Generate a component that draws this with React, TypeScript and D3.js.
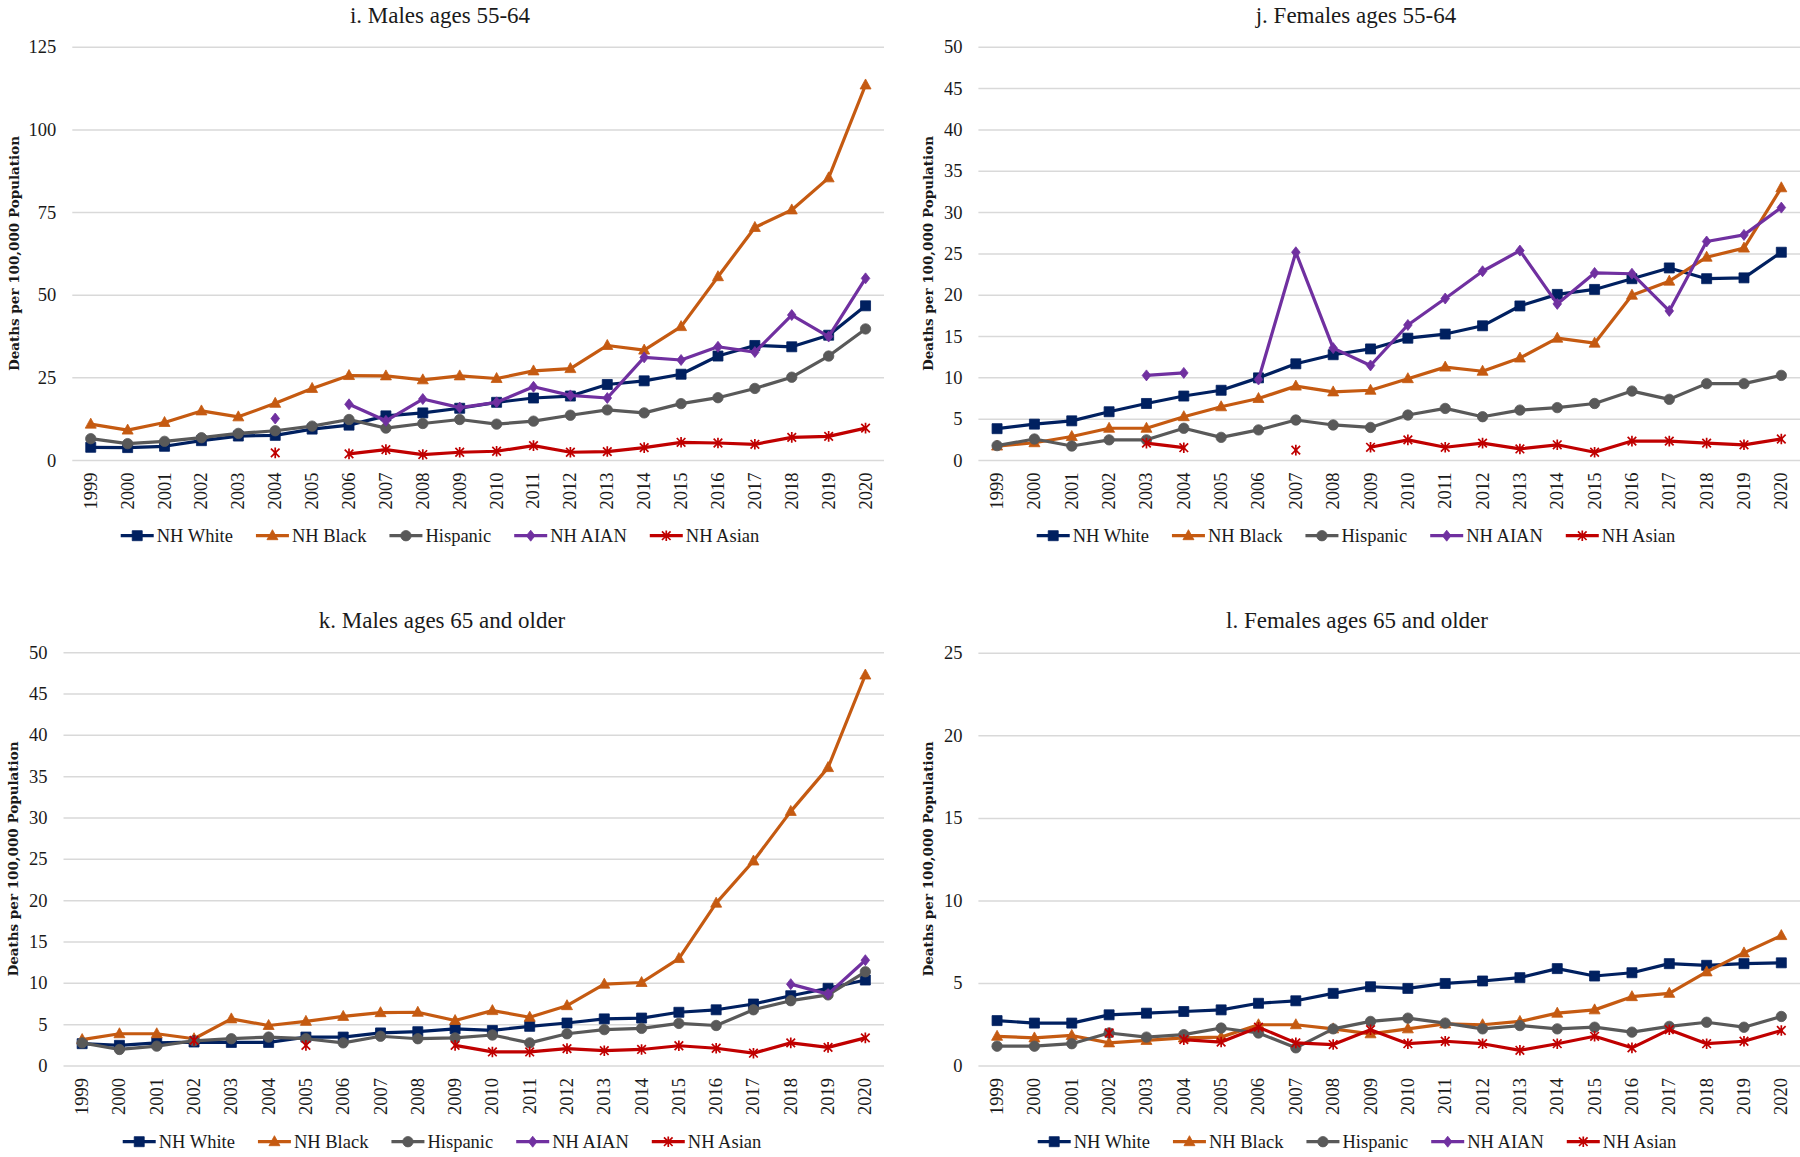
import React, { useEffect, useRef } from 'react';
import * as d3 from 'd3';

const years = ['1999','2000','2001','2002','2003','2004','2005','2006','2007','2008','2009','2010','2011','2012','2013','2014','2015','2016','2017','2018','2019','2020'];
const seriesNames = ['NH White', 'NH Black', 'Hispanic', 'NH AIAN', 'NH Asian'];
const seriesColors = ['#002060', '#c55a11', '#595959', '#7030a0', '#c00000'];
const seriesMarkers = ['square', 'triangle', 'circle', 'diamond', 'asterisk'];

const N = null;

// i. Males ages 55-64
const iWhite = [4.0,3.9,4.3,6.0,7.4,7.6,9.5,10.7,13.5,14.4,15.8,17.6,18.9,19.5,23.0,24.1,26.1,31.6,34.8,34.4,37.9,46.8];
const iBlack = [11.0,9.2,11.5,15.0,13.2,17.3,21.8,25.7,25.6,24.4,25.6,24.8,27.1,27.8,34.8,33.4,40.5,55.6,70.5,75.8,85.5,113.6];
const iHisp = [6.6,5.1,5.8,6.9,8.2,9.0,10.4,12.4,9.8,11.2,12.4,11.0,11.9,13.7,15.3,14.4,17.2,19.0,21.8,25.2,31.6,39.8];
const iAian = [N,N,N,N,N,12.7,N,17.0,12.0,18.6,16.0,17.6,22.3,19.7,18.9,31.2,30.4,34.4,32.8,44.0,37.5,55.1];
const iAsian = [N,N,N,N,N,2.3,N,2.0,3.3,1.8,2.5,2.8,4.5,2.5,2.7,3.9,5.5,5.3,4.9,7.0,7.3,9.8];

// j. Females ages 55-64
const jWhite = [3.85,4.4,4.8,5.9,6.9,7.8,8.5,10.0,11.7,12.8,13.5,14.8,15.3,16.3,18.7,20.1,20.7,22.0,23.3,22.0,22.1,25.2];
const jBlack = [1.75,2.15,2.9,3.9,3.9,5.3,6.5,7.5,9.0,8.3,8.5,9.9,11.3,10.8,12.4,14.8,14.2,20.0,21.7,24.6,25.7,33.0];
const jHisp = [1.8,2.6,1.75,2.5,2.5,3.9,2.8,3.7,4.9,4.3,4.0,5.5,6.3,5.3,6.1,6.4,6.9,8.4,7.4,9.3,9.3,10.3];
const jAian = [N,N,N,N,10.3,10.6,N,9.8,25.2,13.6,11.5,16.4,19.6,22.9,25.4,18.95,22.7,22.6,18.1,26.5,27.3,30.6];
const jAsian = [N,N,N,N,2.1,1.55,N,N,1.25,N,1.6,2.5,1.6,2.1,1.4,1.9,1.0,2.35,2.35,2.1,1.9,2.6];

// k. Males ages 65 and older
const kWhite = [2.7,2.5,2.8,2.9,2.85,2.85,3.5,3.5,4.0,4.15,4.5,4.3,4.8,5.2,5.7,5.8,6.5,6.8,7.5,8.5,9.4,10.4];
const kBlack = [3.2,3.9,3.9,3.3,5.7,4.9,5.4,6.0,6.45,6.5,5.5,6.7,5.9,7.3,9.9,10.1,13.0,19.7,24.8,30.8,36.1,47.3];
const kHisp = [2.8,2.0,2.4,3.05,3.3,3.5,3.3,2.8,3.6,3.3,3.4,3.75,2.8,3.9,4.4,4.55,5.15,4.9,6.8,7.9,8.6,11.4];
const kAian = [N,N,N,N,N,N,N,N,N,N,N,N,N,N,N,N,N,N,N,9.9,8.7,12.8];
const kAsian = [N,N,N,3.1,N,N,2.5,N,N,N,2.5,1.7,1.7,2.1,1.85,2.0,2.45,2.15,1.55,2.8,2.25,3.4];

// l. Females ages 65 and older
const lWhite = [2.75,2.6,2.6,3.1,3.2,3.3,3.4,3.8,3.95,4.4,4.8,4.7,5.0,5.15,5.35,5.9,5.45,5.65,6.2,6.1,6.2,6.25];
const lBlack = [1.8,1.7,1.85,1.4,1.55,1.7,1.75,2.5,2.5,2.25,1.95,2.25,2.55,2.5,2.7,3.2,3.4,4.2,4.4,5.7,6.85,7.9];
const lHisp = [1.2,1.2,1.35,2.0,1.75,1.9,2.3,2.0,1.1,2.25,2.7,2.9,2.6,2.25,2.45,2.25,2.35,2.05,2.4,2.65,2.35,3.0];
const lAian = [N,N,N,N,N,N,N,N,N,N,N,N,N,N,N,N,N,N,N,N,N,N];
const lAsian = [N,N,N,2.0,N,1.6,1.45,2.35,1.4,1.3,2.2,1.35,1.5,1.35,0.95,1.35,1.8,1.1,2.2,1.35,1.5,2.15];

const panelTitles = ['i. Males ages 55-64', 'j. Females ages 55-64', 'k. Males ages 65 and older', 'l. Females ages 65 and older'];
const panelMax = [125, 50, 50, 25];
const panelStep = [25, 5, 5, 5];
const panelSeries = [
  [iWhite, iBlack, iHisp, iAian, iAsian],
  [jWhite, jBlack, jHisp, jAian, jAsian],
  [kWhite, kBlack, kHisp, kAian, kAsian],
  [lWhite, lBlack, lHisp, lAian, lAsian],
];
const yAxisTitle = 'Deaths per 100,000 Population';

// layout (pixels)
const layout = [
  { x0: 72.3, x1: 884, yTop: 47.3, yBot: 460.5, center: 440, titleBase: 23, legendY: 535.7, yTitleX: 14, yTitleY: 253.5 },
  { x0: 978.4, x1: 1800, yTop: 47.3, yBot: 460.5, center: 1356, titleBase: 23, legendY: 535.7, yTitleX: 928, yTitleY: 253.5 },
  { x0: 63.5, x1: 884, yTop: 652.7, yBot: 1066, center: 442, titleBase: 627.5, legendY: 1141.7, yTitleX: 13, yTitleY: 859 },
  { x0: 978.4, x1: 1800, yTop: 653.3, yBot: 1066, center: 1357, titleBase: 627.5, legendY: 1141.7, yTitleX: 928, yTitleY: 859 },
];

const SERIF = "'Liberation Serif', 'Times New Roman', serif";

function markerPath(kind: string): string {
  switch (kind) {
    case 'square': return 'M-5,-5h10v10h-10Z';
    case 'triangle': return 'M0,-6L5.5,4L-5.5,4Z';
    case 'circle': return 'M-5.2,0a5.2,5.2 0 1,0 10.4,0a5.2,5.2 0 1,0 -10.4,0Z';
    case 'diamond': return 'M0,-5.5L4.3,0L0,5.5L-4.3,0Z';
    default: return 'M-4.3,-4.3L4.3,4.3M-4.3,4.3L4.3,-4.3M0,-5.3L0,5.3';
  }
}

function drawMarker(g: any, kind: string, color: string, x: number, y: number) {
  const p = g.append('path').attr('d', markerPath(kind)).attr('transform', `translate(${x},${y})`);
  if (kind === 'asterisk') {
    p.attr('fill', 'none').attr('stroke', color).attr('stroke-width', 1.7);
  } else {
    p.attr('fill', color).attr('stroke', color).attr('stroke-width', 0.8);
  }
}

export default function App() {
  const ref = useRef<SVGSVGElement>(null);
  useEffect(() => {
    const svg = d3.select(ref.current);
    svg.selectAll('*').remove();
    svg.append('rect').attr('width', 1800).attr('height', 1157).attr('fill', '#fff');

    layout.forEach((L, pi) => {
      const g = svg.append('g');
      const x = d3.scaleBand<string>().domain(years).range([L.x0, L.x1]);
      const cx = (yr: string) => (x(yr) as number) + x.bandwidth() / 2;
      const y = d3.scaleLinear().domain([0, panelMax[pi]]).range([L.yBot, L.yTop]);
      const ticks = d3.range(0, panelMax[pi] + panelStep[pi] / 2, panelStep[pi]);

      // gridlines
      const grid = g.append('g');
      grid.selectAll('line').data(ticks).join('line')
        .attr('x1', L.x0).attr('x2', L.x1)
        .attr('y1', (d: number) => y(d)).attr('y2', (d: number) => y(d))
        .attr('stroke', '#d9d9d9').attr('stroke-width', 1.5);

      // y tick labels
      const yl = g.append('g');
      yl.selectAll('text').data(ticks).join('text')
        .attr('x', L.x0 - 16).attr('y', (d: number) => y(d))
        .attr('text-anchor', 'end').attr('dominant-baseline', 'central')
        .attr('font-family', SERIF).attr('font-size', 18.5).attr('fill', '#1a1a1a')
        .text((d: number) => String(d));

      // x labels
      const xl = g.append('g');
      xl.selectAll('text').data(years).join('text')
        .attr('transform', (d: string) => `translate(${cx(d)},${L.yBot + 12}) rotate(-90)`)
        .attr('text-anchor', 'end').attr('dominant-baseline', 'central')
        .attr('font-family', SERIF).attr('font-size', 18.5).attr('fill', '#1a1a1a')
        .text((d: string) => d);

      // title
      g.append('text').attr('x', L.center).attr('y', L.titleBase)
        .attr('text-anchor', 'middle').attr('font-family', SERIF).attr('font-size', 23).attr('fill', '#1a1a1a')
        .text(panelTitles[pi]);

      // y axis title
      g.append('text')
        .attr('transform', `translate(${L.yTitleX},${L.yTitleY}) rotate(-90)`)
        .attr('text-anchor', 'middle').attr('dominant-baseline', 'central')
        .attr('font-family', "'DejaVu Serif', serif").attr('font-weight', 'bold').attr('font-size', 13.5).attr('fill', '#1a1a1a')
        .text(yAxisTitle);

      // series
      const sg = g.append('g');
      panelSeries[pi].forEach((vals, si) => {
        const line = d3.line<number | null>()
          .defined((d) => d != null)
          .x((_d, i) => cx(years[i]))
          .y((d) => y(d as number));
        sg.append('path').attr('d', line(vals) || '')
          .attr('fill', 'none').attr('stroke', seriesColors[si]).attr('stroke-width', 3.2)
          .attr('stroke-linejoin', 'round').attr('stroke-linecap', 'round');
        vals.forEach((v, i) => {
          if (v != null) drawMarker(sg, seriesMarkers[si], seriesColors[si], cx(years[i]), y(v));
        });
      });

      // legend
      const lg = g.append('g');
      let cur = 0;
      seriesNames.forEach((name, si) => {
        const it = lg.append('g').attr('transform', `translate(${cur},0)`);
        it.append('line').attr('x1', 0).attr('x2', 33).attr('y1', 0).attr('y2', 0)
          .attr('stroke', seriesColors[si]).attr('stroke-width', 3.2);
        drawMarker(it, seriesMarkers[si], seriesColors[si], 16.5, 0);
        const t = it.append('text').attr('x', 36).attr('y', 6)
          .attr('font-family', SERIF).attr('font-size', 18.5).attr('fill', '#1a1a1a').text(name);
        const w = (t.node() as SVGTextElement).getComputedTextLength();
        cur += 36 + w + (si < seriesNames.length - 1 ? 23 : 0);
      });
      lg.attr('transform', `translate(${L.center - cur / 2},${L.legendY})`);
    });
  }, []);
  return <svg ref={ref} width={1800} height={1157} style={{ position: 'absolute', left: 0, top: 0, display: 'block' }} />;
}
